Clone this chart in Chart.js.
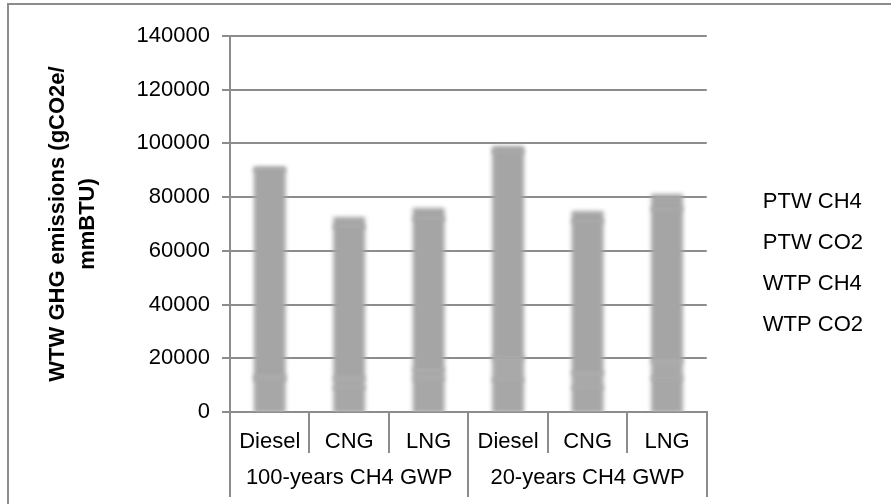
<!DOCTYPE html>
<html>
<head>
<meta charset="utf-8">
<script src="https://cdn.jsdelivr.net/npm/chart.js@4.4.1/dist/chart.umd.min.js"></script>
<style>
  html, body { margin: 0; padding: 0; background: #fff; overflow: hidden; }
  #wrap { position: relative; width: 891px; height: 504px; }
  #frame { position: absolute; left: 7px; top: 3px; width: 1000px; height: 1000px; border: 2px solid #8c8c8c; }
  canvas { position: absolute; left: 0; top: 0; }
</style>
</head>
<body>
<div id="wrap">
  <div id="frame"></div>
  <canvas id="chart" width="891" height="504"></canvas>
</div>
<script>
// fuels on the first axis row, GWP horizon on the second
const categories = ['Diesel', 'CNG', 'LNG', 'Diesel', 'CNG', 'LNG'];
const groups = ['100-years CH4 GWP', '20-years CH4 GWP'];
const yTicks = [0, 20000, 40000, 60000, 80000, 100000, 120000, 140000];

// stacked from the bottom up
const wtpCO2 = [12000, 9000, 12500, 12000, 9000, 12500];
const wtpCH4 = [1200, 3500, 3000, 8000, 5500, 6500];
const ptwCO2 = [77000, 56500, 56500, 77000, 56500, 56500];
const ptwCH4 = [300, 2900, 3200, 1300, 3100, 4900];

Chart.defaults.font.family = '"Liberation Sans", Arial, sans-serif';
Chart.defaults.font.size = 22;
Chart.defaults.color = '#000';

// soft edges on the bars, like the original
const blurBars = {
  id: 'blurBars',
  beforeDatasetsDraw(chart) {
    chart.ctx.save();
    chart.ctx.filter = 'blur(2px)';
  },
  afterDatasetsDraw(chart) {
    chart.ctx.restore();
  }
};

const bar = (label, data, color) => ({
  label,
  data,
  backgroundColor: color,
  borderWidth: 0,
  inflateAmount: 2,
  categoryPercentage: 1,
  barPercentage: 0.35
});

new Chart(document.getElementById('chart'), {
  type: 'bar',
  data: {
    labels: categories,
    datasets: [
      bar('WTP CO2', wtpCO2, '#a7a7a7'),
      bar('WTP CH4', wtpCH4, '#a9a9a9'),
      bar('PTW CO2', ptwCO2, '#a5a5a5'),
      bar('PTW CH4', ptwCH4, '#a6a6a6')
    ]
  },
  options: {
    responsive: false,
    animation: false,
    layout: { padding: { left: 0, top: 36, right: 18, bottom: 14 } },
    plugins: {
      tooltip: { enabled: false },
      legend: {
        position: 'right',
        reverse: true,
        labels: {
          boxWidth: 26,
          padding: 19,
          color: '#000',
          font: { size: 22 },
          generateLabels: chart =>
            Chart.defaults.plugins.legend.labels.generateLabels(chart).map(item => ({
              ...item,
              fillStyle: 'rgba(0,0,0,0)',
              strokeStyle: 'rgba(0,0,0,0)',
              lineWidth: 0
            }))
        }
      }
    },
    scales: {
      x: {
        stacked: true,
        offset: true,
        weight: 0,
        grid: {
          offset: true,
          drawOnChartArea: false,
          tickLength: 41,
          tickColor: '#8c8c8c',
          lineWidth: 2
        },
        border: { color: '#8c8c8c', width: 2 },
        ticks: { autoSkip: false, maxRotation: 0, padding: -24, color: '#000' },
        afterFit: s => { s.height = 41; }
      },
      x2: {
        type: 'category',
        labels: groups,
        position: 'bottom',
        offset: true,
        weight: 1,
        grid: {
          offset: true,
          drawOnChartArea: false,
          tickLength: 44,
          tickColor: '#8c8c8c',
          lineWidth: 2
        },
        border: { display: false },
        ticks: { autoSkip: false, maxRotation: 0, padding: -32, color: '#000' },
        afterFit: s => { s.height = 37; }
      },
      y: {
        stacked: true,
        min: 0,
        max: 140000,
        z: 1,
        grid: {
          color: 'rgba(81,81,81,0.66)',
          lineWidth: 2,
          tickLength: 8
        },
        border: { color: '#8c8c8c', width: 2 },
        ticks: { padding: 12, color: '#000', callback: v => String(v) },
        afterBuildTicks: s => { s.ticks = yTicks.map(v => ({ value: v })); },
        afterFit: s => { s.width = 230; },
        title: {
          display: true,
          text: ['WTW GHG emissions (gCO2e/', 'mmBTU)'],
          color: '#000',
          font: { size: 22, weight: 'bold', lineHeight: 1.36 },
          padding: { top: 43, bottom: 0 }
        }
      }
    }
  },
  plugins: [blurBars]
});
</script>
</body>
</html>
